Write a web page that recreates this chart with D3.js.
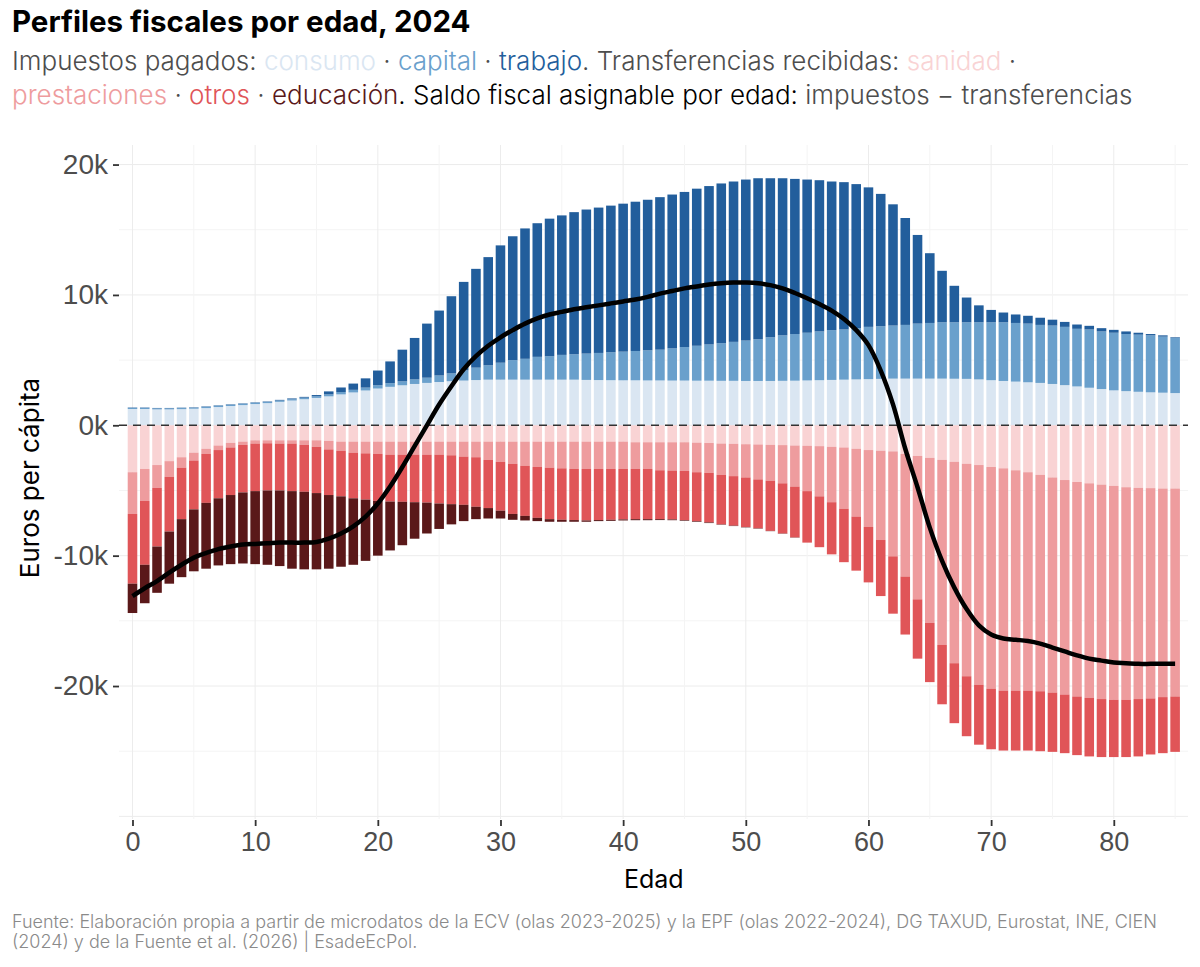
<!DOCTYPE html>
<html>
<head>
<meta charset="utf-8">
<script src="https://cdn.jsdelivr.net/npm/d3@7"></script>
<style>
  body { margin: 0; background: #fff; }
  svg { display: block; font-family: "Inter", "Noto Sans", sans-serif; }
</style>
</head>
<body>
<svg id="graph" width="1200" height="967"></svg>
<script>
// edades 0..85
var ages = d3.range(0, 86);

// impuestos pagados (miles de euros per cápita)
var consumo = [1.25,1.25,1.22,1.22,1.24,1.27,1.32,1.40,1.48,1.55,
  1.63,1.70,1.80,1.90,2.00,2.10,2.22,2.37,2.52,2.67,
  2.82,2.95,3.07,3.17,3.25,3.32,3.38,3.43,3.47,3.50,
  3.50,3.50,3.50,3.50,3.50,3.50,3.50,3.48,3.47,3.46,
  3.45,3.45,3.44,3.44,3.43,3.43,3.42,3.42,3.41,3.41,
  3.40,3.40,3.40,3.41,3.42,3.44,3.46,3.48,3.50,3.52,
  3.54,3.56,3.58,3.58,3.58,3.58,3.58,3.57,3.56,3.52,
  3.46,3.40,3.35,3.30,3.25,3.17,3.08,2.98,2.88,2.78,
  2.68,2.62,2.57,2.53,2.50,2.47];
var capital = [0.08,0.08,0.08,0.08,0.08,0.08,0.10,0.10,0.10,0.10,
  0.10,0.10,0.10,0.10,0.12,0.13,0.15,0.18,0.20,0.22,
  0.25,0.28,0.30,0.35,0.40,0.50,0.60,0.78,0.95,1.10,
  1.30,1.50,1.60,1.75,1.80,1.90,1.95,2.02,2.08,2.14,
  2.20,2.25,2.31,2.36,2.47,2.57,2.68,2.78,2.89,2.99,
  3.10,3.20,3.35,3.49,3.58,3.66,3.74,3.82,3.85,3.93,
  4.01,4.04,4.07,4.12,4.22,4.27,4.32,4.33,4.34,4.38,
  4.44,4.50,4.50,4.50,4.45,4.48,4.47,4.42,4.47,4.42,
  4.42,4.38,4.38,4.37,4.30,4.23];
var trabajo = [0.03,0.03,0.03,0.03,0.03,0.03,0.03,0.03,0.03,0.03,
  0.03,0.03,0.05,0.06,0.06,0.09,0.23,0.35,0.48,0.71,
  1.13,1.67,2.43,3.18,4.15,4.98,5.92,6.79,7.58,8.30,
  9.00,9.50,10.00,10.25,10.55,10.70,10.90,11.05,11.15,11.25,
  11.35,11.45,11.55,11.70,11.80,11.90,12.05,12.15,12.25,12.30,
  12.35,12.35,12.20,12.05,11.90,11.75,11.60,11.40,11.30,11.05,
  10.70,10.15,9.30,8.20,6.80,5.35,3.95,2.80,1.90,1.30,
  0.95,0.75,0.65,0.60,0.55,0.45,0.38,0.33,0.28,0.25,
  0.22,0.20,0.15,0.10,0.10,0.05];

// transferencias recibidas (en negativo)
var sanidad = [-3.60,-3.35,-3.05,-2.75,-2.45,-2.10,-1.80,-1.55,-1.35,-1.25,
  -1.15,-1.15,-1.15,-1.15,-1.15,-1.15,-1.20,-1.25,-1.25,-1.25,
  -1.25,-1.25,-1.25,-1.25,-1.25,-1.25,-1.25,-1.25,-1.25,-1.25,
  -1.25,-1.25,-1.25,-1.25,-1.25,-1.25,-1.25,-1.25,-1.25,-1.25,
  -1.25,-1.30,-1.30,-1.30,-1.30,-1.30,-1.33,-1.36,-1.40,-1.42,
  -1.45,-1.47,-1.50,-1.52,-1.55,-1.57,-1.60,-1.65,-1.70,-1.80,
  -1.90,-1.95,-2.00,-2.20,-2.35,-2.50,-2.65,-2.80,-2.95,-3.05,
  -3.20,-3.30,-3.45,-3.60,-3.80,-4.00,-4.20,-4.35,-4.45,-4.55,
  -4.65,-4.75,-4.80,-4.82,-4.85,-4.85];
var prestaciones = [-3.20,-2.45,-1.75,-1.20,-0.80,-0.60,-0.40,-0.35,-0.35,-0.25,
  -0.25,-0.23,-0.25,-0.25,-0.35,-0.50,-0.65,-0.70,-0.85,-0.90,
  -0.95,-1.00,-1.00,-1.00,-1.00,-1.00,-1.05,-1.15,-1.20,-1.40,
  -1.55,-1.70,-1.85,-1.95,-2.00,-2.05,-2.10,-2.10,-2.10,-2.10,
  -2.10,-2.05,-2.05,-2.15,-2.17,-2.20,-2.27,-2.29,-2.40,-2.48,
  -2.55,-2.68,-2.75,-2.93,-3.15,-3.48,-3.85,-4.25,-4.70,-5.20,
  -5.90,-6.85,-8.05,-9.40,-11.00,-12.65,-14.20,-15.45,-16.30,-16.85,
  -17.00,-17.05,-16.90,-16.75,-16.60,-16.50,-16.45,-16.45,-16.45,-16.45,
  -16.40,-16.30,-16.20,-16.13,-16.00,-15.95];
var otros = [-5.35,-4.90,-4.50,-4.20,-3.95,-3.75,-3.75,-3.70,-3.65,-3.65,
  -3.65,-3.62,-3.60,-3.65,-3.60,-3.55,-3.50,-3.50,-3.50,-3.55,
  -3.60,-3.60,-3.62,-3.65,-3.68,-3.75,-3.75,-3.70,-3.80,-3.70,
  -3.75,-3.85,-3.85,-3.90,-3.95,-3.95,-3.92,-3.95,-3.92,-3.90,
  -3.87,-3.85,-3.85,-3.75,-3.75,-3.77,-3.75,-3.80,-3.80,-3.80,
  -3.80,-3.75,-3.85,-3.85,-3.90,-3.95,-3.90,-4.00,-4.10,-4.15,
  -4.25,-4.30,-4.40,-4.45,-4.55,-4.55,-4.55,-4.60,-4.60,-4.60,
  -4.65,-4.60,-4.60,-4.60,-4.60,-4.55,-4.50,-4.50,-4.50,-4.45,
  -4.40,-4.40,-4.40,-4.30,-4.30,-4.25];
var educacion = [-2.25,-2.95,-3.55,-4.00,-4.45,-4.75,-5.05,-5.15,-5.30,-5.45,
  -5.60,-5.70,-5.80,-5.95,-5.95,-5.85,-5.65,-5.40,-5.10,-4.70,
  -4.20,-3.75,-3.33,-2.80,-2.37,-1.95,-1.55,-1.25,-0.95,-0.80,
  -0.60,-0.45,-0.35,-0.25,-0.20,-0.15,-0.13,-0.10,-0.08,-0.08,
  -0.08,-0.08,-0.08,-0.07,-0.06,-0.05,-0.05,-0.05,-0.03,-0.03,
  -0.03,-0.03,-0.02,-0.02,-0.02,0,0,0,0,0,
  0,0,0,0,0,0,0,0,0,0,
  0,0,0,0,0,0,0,0,0,0,
  0,0,0,0,0,0];

// saldo fiscal: impuestos - transferencias
var saldo = [-13.1,-12.5,-11.95,-11.3,-10.7,-10.15,-9.8,-9.5,-9.3,-9.15,
  -9.1,-9.05,-9.0,-9.0,-9.0,-8.95,-8.7,-8.3,-7.75,-7.0,
  -6.0,-4.7,-3.2,-1.6,0.0,1.6,3.0,4.3,5.3,6.1,
  6.75,7.3,7.8,8.2,8.5,8.7,8.9,9.05,9.2,9.35,
  9.5,9.65,9.85,10.1,10.3,10.5,10.65,10.8,10.9,10.95,
  10.95,10.9,10.75,10.5,10.15,9.75,9.3,8.8,8.15,7.3,
  6.15,4.2,1.6,-1.8,-4.75,-7.85,-10.4,-12.45,-14.1,-15.35,
  -16.05,-16.35,-16.45,-16.55,-16.75,-17.05,-17.35,-17.65,-17.9,-18.05,
  -18.2,-18.25,-18.3,-18.3,-18.3,-18.3];

var keys = ["consumo", "capital", "trabajo", "sanidad", "prestaciones", "otros", "educacion"];
var colors = ["#dae6f2", "#6aa0cc", "#225e9c", "#f9d3d4", "#ee9c9e", "#e05558", "#5a1819"];
var yTicks = [20, 10, 0, -10, -20];
var xTicks = [0, 10, 20, 30, 40, 50, 60, 70, 80];

var table = ages.map(function(a, i) {
  return { edad: a, consumo: consumo[i], capital: capital[i], trabajo: trabajo[i],
    sanidad: sanidad[i], prestaciones: prestaciones[i], otros: otros[i], educacion: educacion[i] };
});

var svg = d3.select("#graph");
var margin = { top: 145, right: 12, bottom: 152, left: 119 };
var width = 1200, height = 967;

var x = d3.scaleLinear()
  .domain([-1.1, 86.05])
  .range([margin.left, width - margin.right]);
var y = d3.scaleLinear()
  .domain([-30.2, 21.5])
  .range([height - margin.bottom + 4, margin.top]);

// rejilla
var grid = svg.append("g");
grid.selectAll(".hg").data(d3.range(-30, 21, 5)).join("line")
  .attr("x1", margin.left).attr("x2", width - margin.right)
  .attr("y1", d => y(d)).attr("y2", d => y(d))
  .attr("stroke", d => d % 10 === 0 ? "#ececec" : "#f4f4f4").attr("stroke-width", 1);
grid.selectAll(".vg").data(d3.range(0, 86, 5)).join("line")
  .attr("x1", d => x(d)).attr("x2", d => x(d))
  .attr("y1", margin.top).attr("y2", y(-30.2))
  .attr("stroke", d => d % 10 === 0 ? "#ececec" : "#f4f4f4").attr("stroke-width", 1);

// barras apiladas
var series = d3.stack().keys(keys).offset(d3.stackOffsetDiverging)(table);
var bw = (x(1) - x(0)) * 0.78;
svg.append("g").selectAll("g").data(series).join("g")
  .attr("fill", (d, i) => colors[i])
  .selectAll("rect").data(d => d).join("rect")
  .attr("x", d => x(d.data.edad) - bw / 2)
  .attr("width", bw)
  .attr("y", d => y(Math.max(d[0], d[1])))
  .attr("height", d => Math.abs(y(d[0]) - y(d[1])));

// linea de cero
svg.append("line")
  .attr("x1", margin.left).attr("x2", width - margin.right)
  .attr("y1", y(0)).attr("y2", y(0))
  .attr("stroke", "#333").attr("stroke-width", 1.6).attr("stroke-dasharray", "8,6");

// saldo fiscal
svg.append("path")
  .datum(ages)
  .attr("fill", "none").attr("stroke", "#000").attr("stroke-width", 4.5)
  .attr("stroke-linejoin", "round").attr("stroke-linecap", "butt")
  .attr("d", d3.line().x(d => x(d)).y((d, i) => y(saldo[i])).curve(d3.curveCatmullRom));

// ejes
var yAxis = g => g
  .attr("transform", `translate(${margin.left},0)`)
  .call(d3.axisLeft(y).tickValues(yTicks).tickFormat(d => d + "k").tickSize(6).tickPadding(5))
  .call(g => g.select(".domain").remove())
  .call(g => g.selectAll(".tick line").attr("stroke", "#333").attr("stroke-width", 1.8))
  .call(g => g.selectAll(".tick text").attr("fill", "#4d4d4d").attr("font-size", 28).attr("font-weight", 300));
var xAxis = g => g
  .attr("transform", `translate(0,${y(-30.2) + 1})`)
  .call(d3.axisBottom(x).tickValues(xTicks).tickSize(6).tickPadding(6))
  .call(g => g.select(".domain").remove())
  .call(g => g.selectAll(".tick line").attr("stroke", "#333").attr("stroke-width", 1.8))
  .call(g => g.selectAll(".tick text").attr("fill", "#4d4d4d").attr("font-size", 27).attr("font-weight", 300));
svg.append("g").call(yAxis);
svg.append("g").call(xAxis);

svg.append("text")
  .attr("x", x(42.5)).attr("y", 888)
  .attr("text-anchor", "middle").attr("font-size", 25).attr("fill", "#000")
  .text("Edad");
svg.append("text")
  .attr("transform", "translate(39,478) rotate(-90)")
  .attr("text-anchor", "middle").attr("font-size", 26).attr("fill", "#000")
  .text("Euros per cápita");

// titulos
svg.append("text")
  .attr("x", 12).attr("y", 32)
  .attr("font-size", 29.5).attr("font-weight", 700).attr("fill", "#000")
  .text("Perfiles fiscales por edad, 2024");

var sub1 = [["Impuestos pagados: ", "#4d4d4d"], ["consumo", colors[0]], [" · ", "#4d4d4d"],
  ["capital", colors[1]], [" · ", "#4d4d4d"], ["trabajo", colors[2]],
  [". Transferencias recibidas: ", "#4d4d4d"], ["sanidad", colors[3]], [" ·", "#4d4d4d"]];
var sub2 = [["prestaciones", colors[4]], [" · ", "#4d4d4d"], ["otros", colors[5]], [" · ", "#4d4d4d"],
  ["educación", colors[6]], [". Saldo fiscal asignable por edad: ", "#000"],
  ["impuestos − transferencias", "#4d4d4d"]];
[[sub1, 70], [sub2, 104]].forEach(function(p) {
  svg.append("text")
    .attr("x", 12).attr("y", p[1]).attr("font-size", 26).attr("font-weight", 300)
    .selectAll("tspan").data(p[0]).join("tspan")
    .attr("fill", d => d[1]).text(d => d[0]);
});

svg.append("text")
  .attr("x", 12).attr("y", 928).attr("font-size", 18).attr("font-weight", 300).attr("fill", "#8a8a8a")
  .text("Fuente: Elaboración propia a partir de microdatos de la ECV (olas 2023-2025) y la EPF (olas 2022-2024), DG TAXUD, Eurostat, INE, CIEN");
svg.append("text")
  .attr("x", 12).attr("y", 948).attr("font-size", 18).attr("font-weight", 300).attr("fill", "#8a8a8a")
  .text("(2024) y de la Fuente et al. (2026) | EsadeEcPol.");
</script>
</body>
</html>
